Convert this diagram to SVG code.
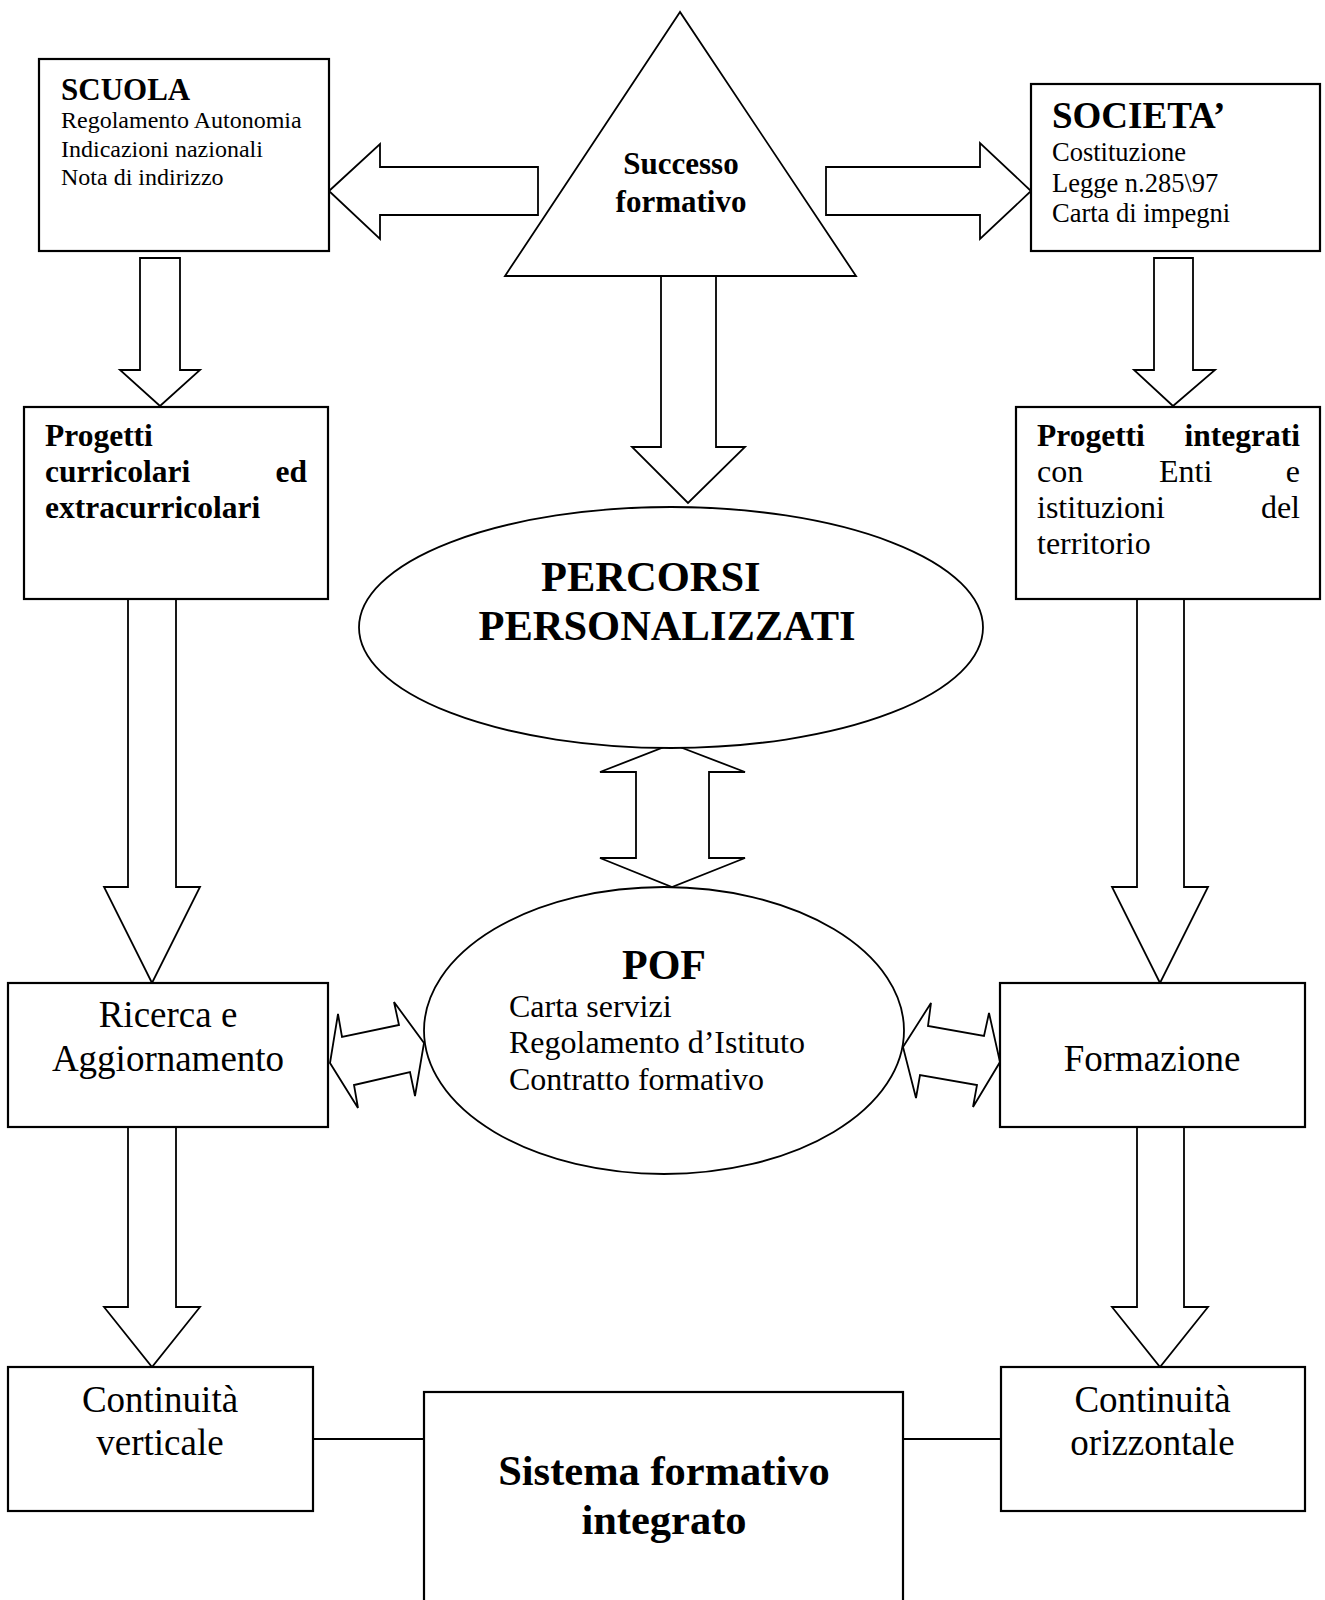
<svg xmlns="http://www.w3.org/2000/svg" width="1325" height="1600" viewBox="0 0 1325 1600">
<style>
.box{fill:#fff;stroke:#000;stroke-width:2.2}
.shape{fill:#fff;stroke:#000;stroke-width:1.8}
.arr{fill:#fff;stroke:#000;stroke-width:1.8;stroke-linejoin:miter}
.ln{stroke:#000;stroke-width:1.8;fill:none}
text{font-family:"Liberation Serif","Times New Roman",serif;fill:#000}
.b{font-weight:bold}
.m{text-anchor:middle}
.e{text-anchor:end}
</style>
<rect width="1325" height="1600" fill="#fff"/>
<g id="connectors">
<polygon class="arr" points="329,191 380,144 380,167 538,167 538,215 380,215 380,239"/>
<polygon class="arr" points="826,167 980,167 980,143 1031,191 980,239 980,215 826,215"/>
<polygon class="arr" points="140,258 180,258 180,370 200,370 160,406 120,370 140,370"/>
<polygon class="arr" points="1154,258 1193,258 1193,370 1215,370 1173,406 1134,370 1154,370"/>
<polygon class="arr" points="661,276 716,276 716,447 745,447 688,503 632,447 661,447"/>
<polygon class="arr" points="672,744 745,772 709,772 709,858 745,858 672,887 600,858 636,858 636,772 600,772"/>
<polygon class="arr" points="128,599 176,599 176,887 200,887 152,983 104,887 128,887"/>
<polygon class="arr" points="1137,599 1184,599 1184,887 1208,887 1160,983 1112,887 1137,887"/>
<polygon class="arr" points="330,1063 338,1014 342,1037 399,1025 394,1002 424,1043 415,1096 410,1072 354,1085 358,1108"/>
<polygon class="arr" points="903,1047 931,1003 928,1026 984,1036 989,1013 1000,1062 973,1107 977,1085 920,1075 916,1098"/>
<polygon class="arr" points="128,1127 176,1127 176,1307 200,1307 152,1367 104,1307 128,1307"/>
<polygon class="arr" points="1137,1127 1184,1127 1184,1307 1208,1307 1160,1367 1112,1307 1137,1307"/>
<line class="ln" x1="313" y1="1439" x2="424" y2="1439"/>
<line class="ln" x1="903" y1="1439" x2="1001" y2="1439"/>
</g>
<g id="successo">
<polygon class="shape" points="680,12 505,276 856,276"/>
<text class="b m" x="681" y="174" font-size="31">Successo</text>
<text class="b m" x="681" y="211.5" font-size="31">formativo</text>
</g>
<g id="scuola">
<rect class="box" x="39" y="59" width="290" height="192"/>
<text class="b" x="61" y="100" font-size="31">SCUOLA</text>
<text x="61" y="128" font-size="24">Regolamento Autonomia</text>
<text x="61" y="156.5" font-size="24">Indicazioni nazionali</text>
<text x="61" y="184.5" font-size="24">Nota di indirizzo</text>
</g>
<g id="societa">
<rect class="box" x="1031" y="84" width="289" height="167"/>
<text class="b" x="1052" y="128" font-size="37">SOCIETA’</text>
<text x="1052" y="161" font-size="26.5">Costituzione</text>
<text x="1052" y="191.5" font-size="26.5">Legge n.285\97</text>
<text x="1052" y="222" font-size="26.5">Carta di impegni</text>
</g>
<g id="progetti-curricolari">
<rect class="box" x="24" y="407" width="304" height="192"/>
<text class="b" x="45" y="446" font-size="31.5">Progetti</text>
<text class="b" x="45" y="482" font-size="31.5">curricolari</text>
<text class="b e" x="307" y="482" font-size="31.5">ed</text>
<text class="b" x="45" y="518" font-size="31.5">extracurricolari</text>
</g>
<g id="progetti-integrati">
<rect class="box" x="1016" y="407" width="304" height="192"/>
<text class="b" x="1037" y="446" font-size="31.5">Progetti</text>
<text class="b e" x="1300" y="446" font-size="31.5">integrati</text>
<text x="1037" y="482" font-size="32">con</text>
<text x="1159" y="482" font-size="32">Enti</text>
<text class="e" x="1300" y="482" font-size="32">e</text>
<text x="1037" y="518" font-size="32">istituzioni</text>
<text class="e" x="1300" y="518" font-size="32">del</text>
<text x="1037" y="554" font-size="32">territorio</text>
</g>
<g id="percorsi">
<ellipse class="shape" cx="671" cy="627.5" rx="312" ry="120.5"/>
<text class="b" x="541" y="591" font-size="42.5">PERCORSI</text>
<text class="b m" x="667" y="640" font-size="42.5">PERSONALIZZATI</text>
</g>
<g id="pof">
<ellipse class="shape" cx="664" cy="1030.5" rx="240" ry="143.5"/>
<text class="b m" x="664" y="979" font-size="42">POF</text>
<text x="509" y="1017" font-size="32">Carta servizi</text>
<text x="509" y="1053" font-size="32">Regolamento d’Istituto</text>
<text x="509" y="1090" font-size="32">Contratto formativo</text>
</g>
<g id="ricerca">
<rect class="box" x="8" y="983" width="320" height="144"/>
<text class="m" x="168" y="1027" font-size="37">Ricerca e</text>
<text class="m" x="168" y="1071" font-size="37">Aggiornamento</text>
</g>
<g id="formazione">
<rect class="box" x="1000" y="983" width="305" height="144"/>
<text class="m" x="1152" y="1071" font-size="37">Formazione</text>
</g>
<g id="continuita-verticale">
<rect class="box" x="8" y="1367" width="305" height="144"/>
<text class="m" x="160" y="1411.5" font-size="37">Continuità</text>
<text class="m" x="160" y="1455" font-size="37">verticale</text>
</g>
<g id="continuita-orizzontale">
<rect class="box" x="1001" y="1367" width="304" height="144"/>
<text class="m" x="1152.5" y="1411.5" font-size="37">Continuità</text>
<text class="m" x="1152.5" y="1455" font-size="37">orizzontale</text>
</g>
<g id="sistema">
<rect class="box" x="424" y="1392" width="479" height="220"/>
<text class="b m" x="664" y="1485" font-size="42.5">Sistema formativo</text>
<text class="b m" x="664" y="1534" font-size="42.5">integrato</text>
</g>
</svg>
